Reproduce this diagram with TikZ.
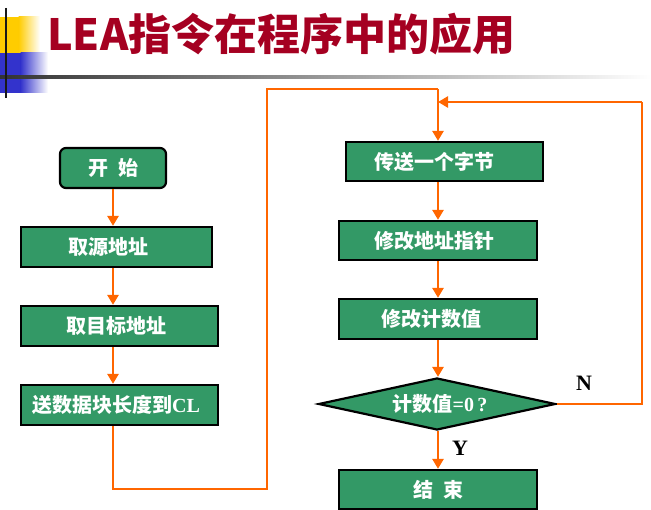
\documentclass[tikz,border=0pt]{standalone}
\usepackage{fontspec}
\setmainfont{Liberation Serif}
\newfontfamily\cjk{Noto Sans CJK SC}
\usetikzlibrary{shapes.geometric,arrows.meta}
\definecolor{boxgreen}{HTML}{339966}
\definecolor{flow}{HTML}{FF6600}
\definecolor{titlered}{HTML}{A50021}
\definecolor{deco yellow}{HTML}{FFCC00}
\definecolor{deco blue}{HTML}{3333CC}
\tikzset{
  stepbox/.style={draw=black, line width=2.2pt, fill=boxgreen, text=white,
    font=\cjk\bfseries\fontsize{20}{22}\selectfont, inner sep=0pt, anchor=center},
  startbox/.style={stepbox, rounded corners=6pt},
  decbox/.style={draw=black, line width=2.2pt, fill=boxgreen, text=white,
    font=\cjk\bfseries\fontsize{20}{22}\selectfont, diamond, aspect=4.56,
    inner sep=0pt, minimum width=237pt, minimum height=52pt},
  flowline/.style={draw=flow, line width=2.5pt},
  arr/.style={flowline, -{Triangle[length=10pt,width=11pt]}},
  yn/.style={font=\bfseries\fontsize{22}{24}\selectfont, text=black}
}
\newcommand{\shl}[1]{\hspace*{#1pt}}
\begin{document}
\begin{tikzpicture}[x=1pt,y=-1pt]
\useasboundingbox (0,0) rectangle (651,510);
% decoration
\fill[deco yellow] (0,17) rectangle (19,53);
\shade[left color=deco yellow, right color=white] (18.5,17) rectangle (40,53);
\fill[deco blue] (0,53) rectangle (21,93);
\shade[left color=deco blue, right color=white] (20.5,53) rectangle (48,93);
\shade[left color=black!80, right color=white] (0,75.5) rectangle (651,78.5);
\draw[line width=2pt, black!90] (6,8) -- (6,98);
% title
\node[anchor=west, inner sep=0pt, text=titlered, font=\cjk\bfseries\fontsize{43}{48}\selectfont] (title) at (47,34) {LEA指令在程序中的应用};
% left column
\node[startbox, minimum width=106pt, minimum height=40pt] (start) at (113,168) {开\hspace{10pt}始};
\node[stepbox, minimum width=191pt, minimum height=40pt] (src) at (116.5,247) {取源地址\shl{16}};
\node[stepbox, minimum width=197pt, minimum height=40pt] (dst) at (119.5,326) {取目标地址\shl{7}};
\node[stepbox, minimum width=197pt, minimum height=40pt] (cl) at (119.5,405) {送数据块长度到{\rmfamily CL}\shl{7}};
% right column
\node[stepbox, minimum width=197pt, minimum height=39pt] (send) at (444.5,161.5) {传送一个字节\shl{20}};
\node[stepbox, minimum width=198pt, minimum height=39pt] (mod) at (438,240.5) {修改地址指针\shl{8}};
\node[stepbox, minimum width=198pt, minimum height=40pt] (cnt) at (438,319) {修改计数值\shl{14}};
\node[decbox] (dia) at (437,404) {\shl{6}计数值{\rmfamily =0\,?}};
\node[stepbox, minimum width=198pt, minimum height=39pt] (end) at (438,489.5) {结\hspace{10pt}束};
% labels
\node[yn] (ylab) at (460,448) {Y};
\node[yn] (nlab) at (584,383) {N};
% helper coordinates
\coordinate (lx) at (113,0);
\coordinate (rx) at (438,0);
\coordinate (b1) at (113,489);
\coordinate (b2) at (267,489);
\coordinate (t1) at (267,89);
\coordinate (t2) at (438,89);
\coordinate (r1) at (642,404);
\coordinate (r2) at (642,102);
\coordinate (r3) at (438,102);
% connectors left
\draw[arr] (start.south) -- (lx |- src.north);
\draw[arr] (lx |- src.south) -- (lx |- dst.north);
\draw[arr] (lx |- dst.south) -- (lx |- cl.north);
\draw[flowline] (lx |- cl.south) -- (b1) -- (b2) -- (t1) -- (t2);
\draw[arr] (t2) -- (rx |- send.north);
% connectors right
\draw[arr] (rx |- send.south) -- (rx |- mod.north);
\draw[arr] (rx |- mod.south) -- (rx |- cnt.north);
\draw[arr] (rx |- cnt.south) -- (rx |- dia.north);
\draw[arr] (rx |- dia.south) -- (rx |- end.north);
\draw[flowline] (dia.east) -- (r1) -- (r2);
\draw[arr] (r2) -- (r3);
\end{tikzpicture}
\end{document}
